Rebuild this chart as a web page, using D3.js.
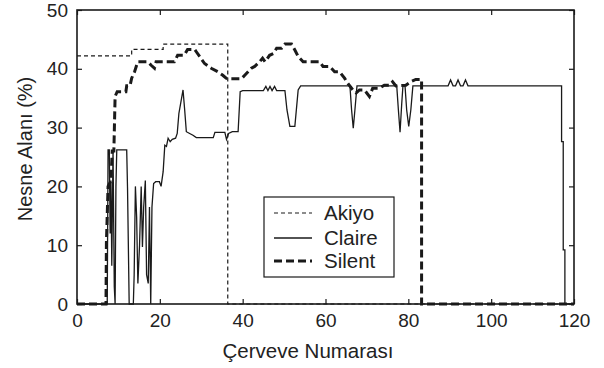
<!DOCTYPE html>
<html>
<head>
<meta charset="utf-8">
<script src="https://cdn.jsdelivr.net/npm/d3@7"></script>
<style>
  html, body { margin: 0; padding: 0; background: #fff; }
  svg { display: block; }
  text { font-family: "Liberation Sans", Arial, Helvetica, sans-serif; fill: #222; }
</style>
</head>
<body>
<svg id="chart" width="604" height="368"></svg>
<script>
// ---- data (frame, % area) ----
const seriesNames = ["Akiyo", "Claire", "Silent"];
const xTicks = [0, 20, 40, 60, 80, 100, 120];
const yTicks = [0, 10, 20, 30, 40, 50];
const xLabel = "Çerveve Numarası";
const yLabel = "Nesne Alanı (%)";

const akiyo = [[0,42.2],[13.2,42.2],[13.2,43.3],[20.8,43.3],[20.8,44.2],[36.4,44.2],[36.4,0],[120,0]];

const claire = [[0,0],[7.3,0],[7.5,26.2],[7.8,26.2],[8.0,12],[8.2,21],[8.4,6.5],[8.7,26.2],[9.0,3],[9.2,0],
  [9.4,20],[9.6,26.2],[12.0,26.2],[12.2,19.7],[12.6,0],[13.6,0],[13.8,4.9],[14.1,20],[14.4,14.8],[14.7,3.5],
  [15.1,10],[15.5,20],[15.8,9.7],[16.1,16.5],[16.5,21],[16.8,5],[17.2,3.5],[17.5,16.5],[17.8,0],[18.1,16.5],
  [18.5,20.5],[19.0,20.8],[19.9,20.8],[20.3,20],[20.8,22.5],[21.2,27],[21.6,26.8],[22.0,28.2],[22.5,27.6],
  [23.0,28],[23.8,28.2],[24.2,29],[24.6,32.4],[25.6,36.4],[26.0,33],[26.4,29.3],[27.2,29],[28.0,28.7],
  [28.8,28.3],[32.9,28.3],[33.3,29.2],[35.7,29.2],[36.1,28],[36.6,29],[37.5,29.3],[38.9,29.3],[39.4,36.1],
  [40,36.3],[45,36.3],[45.6,37],[46.1,36.3],[46.6,37],[47.1,36.3],[47.7,37],[48.2,36.3],[50.2,36.3],
  [50.7,33],[51.4,30.2],[52.6,30.2],[53.4,36.4],[54.0,37.1],[65.9,37.1],[66.3,33],[66.7,29.9],[67.1,33],
  [67.6,37.1],[77.2,37.1],[77.6,33],[78.0,29.2],[78.4,34],[78.7,37.1],[79.2,37.1],[79.6,33],[80.1,30.2],
  [80.6,33],[81.1,37.1],[89.6,37.1],[90.2,38.1],[90.8,37.1],[91.4,37.1],[92.0,38.1],[92.6,37.1],[93.2,37.1],
  [93.8,38.1],[94.4,37.1],[117.0,37.1],[117.0,27.6],[117.4,27.6],[117.4,9.2],[117.8,9.2],[117.8,0],[120,0]];

const silent = [[0,0],[7.0,0],[7.1,10.4],[7.5,20],[8.2,21],[8.5,26],[8.9,26],[9.2,35.3],[9.7,36.1],
  [11.8,36.1],[12.0,37.1],[12.8,37.1],[13.2,38.4],[13.9,39.5],[14.3,40.4],[14.7,41.2],[17.1,41.2],
  [17.9,40.6],[18.7,40.1],[19.1,41.2],[23.5,41.2],[24.3,42.3],[25.9,42.3],[26.7,43.3],[28.4,43.3],
  [28.8,42.9],[29.6,42.1],[30.8,40.9],[32.4,40.1],[34.0,39.5],[35.2,38.9],[36.0,38.4],[36.9,38.3],
  [39.7,38.3],[40.5,38.9],[41.3,39.5],[42.1,40.1],[42.9,40.4],[44.1,41.2],[44.8,41.8],[45.4,41.2],
  [46.5,42.3],[47.4,42.6],[48.2,43.5],[49.4,43.5],[50.2,44.2],[51.8,44.2],[52.6,43.2],[53.4,42.1],
  [54.6,41.2],[58.6,41.2],[59.4,40.4],[61.0,40.4],[62.2,39.5],[63.4,39.5],[64.6,38.4],[65.4,37.5],
  [66.6,36.4],[67.4,35.9],[68.2,36.4],[69.4,36.4],[70.6,35.3],[71.4,36.7],[73.0,36.7],[74.2,37.2],
  [75.4,37.2],[76.2,37.8],[77.0,37.1],[79.4,37.2],[80.6,37.8],[81.8,38.2],[83.2,38.2],[83.2,0],[120,0]];

// ---- drawing ----
const svg = d3.select("#chart");
const L = 77, R = 574, T = 10, B = 304;
const x = d3.scaleLinear().domain([0, 120]).range([L, R]);
const y = d3.scaleLinear().domain([0, 50]).range([B, T]);
const ink = "#1a1a1a";

const line = d3.line().x(d => x(d[0])).y(d => y(d[1]));

const styles = {
  Akiyo:  { w: 1.2, dash: "4,3" },
  Claire: { w: 1.3, dash: null },
  Silent: { w: 3,   dash: "8,4" }
};
const data = { Akiyo: akiyo, Claire: claire, Silent: silent };

const plot = svg.append("g");
["Claire", "Akiyo", "Silent"].forEach(n => {
  plot.append("path").datum(data[n])
    .attr("d", line)
    .attr("fill", "none")
    .attr("stroke", ink)
    .attr("stroke-width", styles[n].w)
    .attr("stroke-dasharray", styles[n].dash)
    .attr("stroke-linejoin", "miter");
});

// axes (inward ticks, MATLAB style)
function styleAxis(g, noLabels) {
  g.select(".domain").remove();
  g.selectAll(".tick line").attr("stroke", ink).attr("stroke-width", 1.2);
  g.selectAll(".tick text").attr("font-size", 19).attr("fill", "#222")
    .style("font-family", '"Liberation Sans", Arial, sans-serif');
  if (noLabels) g.selectAll(".tick text").remove();
}
svg.append("g").attr("transform", `translate(0,${B})`)
  .call(d3.axisBottom(x).tickValues(xTicks).tickSize(-5).tickPadding(10))
  .call(g => styleAxis(g, false));
svg.append("g").attr("transform", `translate(0,${T})`)
  .call(d3.axisTop(x).tickValues(xTicks).tickSize(-5))
  .call(g => styleAxis(g, true));
svg.append("g").attr("transform", `translate(${L},0)`)
  .call(d3.axisLeft(y).tickValues(yTicks).tickSize(-5).tickPadding(9))
  .call(g => styleAxis(g, false));
svg.append("g").attr("transform", `translate(${R},0)`)
  .call(d3.axisRight(y).tickValues(yTicks).tickSize(-5))
  .call(g => styleAxis(g, true));

svg.append("rect").attr("x", L).attr("y", T).attr("width", R - L).attr("height", B - T)
  .attr("fill", "none").attr("stroke", ink).attr("stroke-width", 1.6);

// axis titles
svg.append("text").attr("x", 308).attr("y", 358).attr("text-anchor", "middle")
  .attr("font-size", 20.5).text(xLabel);
svg.append("text").attr("transform", "translate(32,149) rotate(-90)")
  .attr("text-anchor", "middle").attr("font-size", 20).text(yLabel);

// legend
const lg = svg.append("g");
lg.append("rect").attr("x", 264).attr("y", 197).attr("width", 130).attr("height", 80)
  .attr("fill", "#fff").attr("stroke", ink).attr("stroke-width", 1.2);
const ly = [213, 238, 261];
seriesNames.forEach((n, i) => {
  lg.append("line").attr("x1", 274).attr("x2", 312).attr("y1", ly[i]).attr("y2", ly[i])
    .attr("stroke", ink).attr("stroke-width", styles[n].w)
    .attr("stroke-dasharray", styles[n].dash);
  lg.append("text").attr("x", 324).attr("y", ly[i]).attr("dy", "0.35em")
    .attr("font-size", 20.5).text(n);
});
</script>
</body>
</html>
